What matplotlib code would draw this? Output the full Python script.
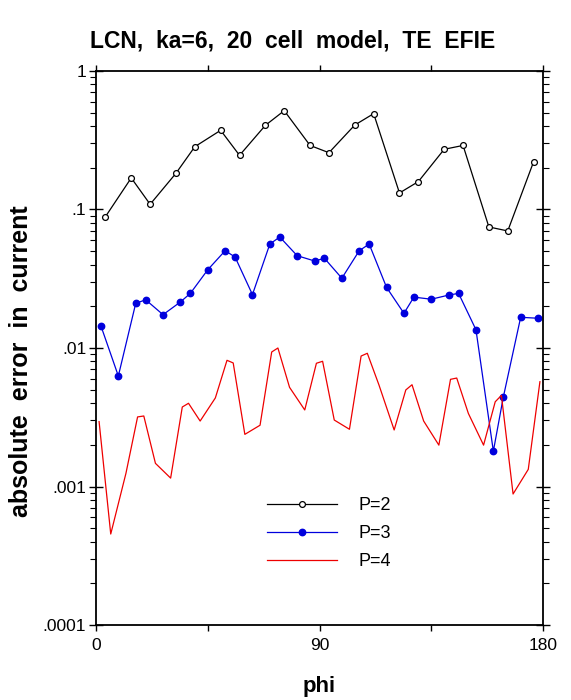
import matplotlib
matplotlib.use("Agg")
import matplotlib.pyplot as plt
from matplotlib.ticker import FixedLocator, LogLocator, NullFormatter, FixedFormatter

plt.rcParams['font.family'] = ['Liberation Sans', 'DejaVu Sans']

# P=2 (2 points per 18-degree cell)
phi_p2 = [3.8, 14.2, 21.8, 32.2, 39.8, 50.2, 57.8, 68.2, 75.8, 86.2,
          93.8, 104.2, 111.8, 122.2, 129.8, 140.2, 147.8, 158.2, 165.8, 176.2]
err_p2 = [0.0887, 0.169, 0.109, 0.1825, 0.284, 0.373, 0.246, 0.405, 0.517, 0.290,
          0.257, 0.407, 0.492, 0.1316, 0.159, 0.272, 0.290, 0.0748, 0.070, 0.221]

# P=3
phi_p3 = [2.0, 9.0, 16.0, 20.0, 27.0, 34.0, 38.0, 45.0, 52.0, 56.0,
          63.0, 70.0, 74.0, 81.0, 88.0, 92.0, 99.0, 106.0, 110.0, 117.0,
          124.0, 128.0, 135.0, 142.0, 146.0, 153.0, 160.0, 164.0, 171.0, 178.0]
err_p3 = [0.01442, 0.00628, 0.0210, 0.0223, 0.0174, 0.0215, 0.0248, 0.0367, 0.0504, 0.0454,
          0.0243, 0.0563, 0.0633, 0.0464, 0.0425, 0.0444, 0.0319, 0.0504, 0.0563, 0.0274,
          0.0178, 0.0233, 0.0225, 0.0241, 0.0248, 0.01355, 0.00180, 0.00441, 0.01666, 0.0164]

# P=4
phi_p4 = [1.25, 5.94, 12.06, 16.75, 19.25, 23.94, 30.06, 34.75, 37.25, 41.94,
          48.06, 52.75, 55.25, 59.94, 66.06, 70.75, 73.25, 77.94, 84.06, 88.75,
          91.25, 95.94, 102.06, 106.75, 109.25, 113.94, 120.06, 124.75, 127.25, 131.94,
          138.06, 142.75, 145.25, 149.94, 156.06, 160.75, 163.25, 167.94, 174.06, 178.75]
err_p4 = [0.00294, 0.000454, 0.001245, 0.00318, 0.00323, 0.00147, 0.00115, 0.00375, 0.00399, 0.00297,
          0.00436, 0.00815, 0.00780, 0.00238, 0.00277, 0.00936, 0.0100, 0.0052, 0.00357, 0.00776,
          0.00802, 0.00302, 0.00259, 0.00875, 0.00916, 0.00541, 0.00256, 0.00498, 0.00543, 0.00297,
          0.00199, 0.00594, 0.00607, 0.00337, 0.00199, 0.00409, 0.00455, 0.000883, 0.00133, 0.00571]

ytick_vals = [1e-4, 1e-3, 1e-2, 1e-1, 1]
ytick_labels = ['.0001', '.001', '.01', '.1', '1']
xtick_vals = [0, 90, 180]
xtick_labels = ['0', '90', '180']
xminor_vals = [45, 135]

fig = plt.figure(figsize=(5.71, 7.0), dpi=100)
ax = fig.add_axes([0.1681, 0.1071, 0.7829, 0.7915])

blue = '#0000dd'
red = '#ee0000'
ax.plot(phi_p2, err_p2, color='black', lw=0.9, marker='o', ms=4.2,
        mfc='white', mec='black', mew=0.9, label='P=2')
ax.plot(phi_p3, err_p3, color=blue, lw=0.9, marker='o', ms=4.6,
        mfc=blue, mec=blue, label='P=3')
ax.plot(phi_p4, err_p4, color=red, lw=0.9, label='P=4')

ax.set_yscale('log')
ax.set_xlim(0, 180)
ax.set_ylim(1e-4, 1)

ax.yaxis.set_major_locator(FixedLocator(ytick_vals))
ax.yaxis.set_major_formatter(FixedFormatter(ytick_labels))
ax.yaxis.set_minor_locator(LogLocator(base=10, subs=range(2, 10)))
ax.yaxis.set_minor_formatter(NullFormatter())
ax.xaxis.set_major_locator(FixedLocator(xtick_vals))
ax.xaxis.set_major_formatter(FixedFormatter(xtick_labels))
ax.xaxis.set_minor_locator(FixedLocator(xminor_vals))

ax.tick_params(axis='y', which='major', direction='inout', length=10, width=1.0,
               right=True, left=True, labelsize=12.5, pad=2)
ax.tick_params(axis='y', which='minor', direction='out', length=4, width=0.8,
               right=True, left=True)
ax.tick_params(axis='x', which='both', direction='out', length=4, width=1.0,
               top=True, bottom=True, labelsize=12.5, pad=5)

for s in ax.spines.values():
    s.set_linewidth(1.3)

fig.text(0.513, 0.9414, 'LCN,  ka=6,  20  cell  model,  TE  EFIE',
         ha='center', va='center', fontsize=16.5, fontweight='bold')
ax.set_xlabel('phi', fontsize=16, fontweight='bold', labelpad=17)
ax.set_ylabel('absolute  error  in  current', fontsize=18, fontweight='bold')
ax.yaxis.set_label_coords(-0.141, 0.477)

leg = ax.legend(loc='upper left', bbox_to_anchor=(0.3653, 0.2435), frameon=False,
                fontsize=13, handlelength=3.88, handletextpad=1.22,
                labelspacing=0.6, numpoints=1, borderaxespad=0)

fig.savefig('out.png', dpi=100)
